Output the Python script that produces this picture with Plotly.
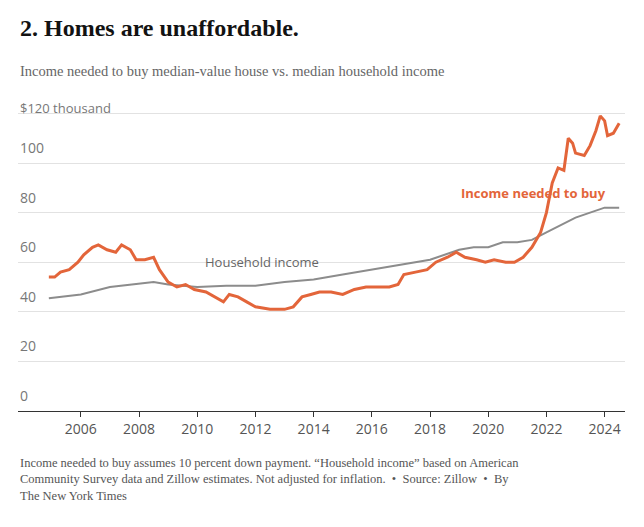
import plotly.graph_objects as go

# income needed to buy (thousand $)
buy = [(2004.9,54),(2005.1,54),(2005.3,56),(2005.6,57),(2005.9,60),(2006.1,63),(2006.4,66),(2006.6,67),
       (2006.9,65),(2007.2,64),(2007.4,67),(2007.7,65),(2007.9,61),(2008.2,61),(2008.5,62),(2008.7,57),
       (2009.0,52),(2009.3,50),(2009.6,51),(2009.9,49),(2010.3,48),(2010.6,46),(2010.9,44),(2011.1,47),
       (2011.4,46),(2011.7,44),(2012.0,42),(2012.5,41),(2013.0,41),(2013.3,42),(2013.6,46),(2013.9,47),
       (2014.2,48),(2014.6,48),(2015.0,47),(2015.4,49),(2015.8,50),(2016.2,50),(2016.6,50),(2016.9,51),
       (2017.1,55),(2017.5,56),(2017.9,57),(2018.2,60),(2018.6,62),(2018.9,64),(2019.2,62),(2019.6,61),
       (2019.9,60),(2020.2,61),(2020.6,60),(2020.9,60),(2021.2,62),(2021.5,66),(2021.8,72),(2022.0,80),
       (2022.2,92),(2022.4,98),(2022.6,97),(2022.75,110),(2022.9,108),(2023.0,104),(2023.3,103),
       (2023.5,107),(2023.7,113),(2023.85,119),(2024.0,117),(2024.1,111),(2024.3,112),(2024.5,116)]
house = [(2004.9,45.5),(2006,47),(2007,50),(2008,51.5),(2008.5,52),(2009,51),(2010,50),(2011,50.5),
         (2012,50.5),(2013,52),(2014,53),(2015,55),(2016,57),(2017,59),(2018,61),(2019,65),(2019.5,66),
         (2020,66),(2020.5,68),(2021,68),(2021.5,69),(2022,72),(2022.5,75),(2023,78),(2023.5,80),
         (2024,82),(2024.5,82)]

serif = "Georgia, Liberation Serif, DejaVu Serif"
fig = go.Figure()
fig.add_trace(go.Scatter(x=[p[0] for p in house], y=[p[1] for p in house], mode="lines",
                         line=dict(color="#8c8c8c", width=2)))
fig.add_trace(go.Scatter(x=[p[0] for p in buy], y=[p[1] for p in buy], mode="lines",
                         line=dict(color="#e3653a", width=3)))

ann = []
for v in [0, 20, 40, 60, 80, 100]:
    ann.append(dict(x=0, xref="paper", y=v, yref="y", text=str(v), showarrow=False,
                    xanchor="left", yanchor="bottom", yshift=4, font=dict(size=14, color="#777")))
ann.append(dict(x=0, xref="paper", y=120, yref="y", text="$120 thousand", showarrow=False,
                xanchor="left", yanchor="bottom", yshift=-6, font=dict(size=13, color="#777")))
ann.append(dict(x=2010.2, y=60, text="Household income", showarrow=False, xanchor="left",
                font=dict(size=13, color="#666")))
ann.append(dict(x=2024.1, y=88, text="<b>Income needed to buy</b>", showarrow=False, xanchor="right",
                font=dict(size=13, color="#e3653a")))
ann.append(dict(x=0, xref="paper", y=-0.165, yref="paper", xanchor="left", yanchor="top", align="left",
                showarrow=False, yshift=8, font=dict(size=12.5, color="#555", family=serif),
                text="Income needed to buy assumes 10 percent down payment. “Household income” based on American<br>"
                     "Community Survey data and Zillow estimates. Not adjusted for inflation.  •  Source: Zillow  •  By<br>"
                     "The New York Times"))
ann.append(dict(x=0, xref="paper", y=1.1, yref="paper", xanchor="left", showarrow=False, yshift=9,
                text="Income needed to buy median-value house vs. median household income",
                font=dict(size=14.5, color="#666", family=serif)))
ann.append(dict(x=0, xref="paper", y=1.235, yref="paper", xanchor="left", yanchor="middle", showarrow=False,
                text="<b>2. Homes are unaffordable.</b>",
                font=dict(size=24, color="#121212", family=serif)))

fig.update_layout(
    width=636, height=519, plot_bgcolor="white", paper_bgcolor="white", showlegend=False,
    margin=dict(l=10, r=19, t=93, b=116),
    annotations=ann,
    xaxis=dict(range=[2003.84, 2024.7], tickvals=list(range(2006, 2025, 2)), showgrid=False,
               ticks="outside", ticklen=5, tickcolor="#333", showline=True, linecolor="#333",
               tickfont=dict(size=14, color="#555")),
    yaxis=dict(range=[0, 125], tickvals=[0, 20, 40, 60, 80, 100, 120], showticklabels=False,
               gridcolor="#e2e2e2", zeroline=False),
)
fig.write_html("out.html")
